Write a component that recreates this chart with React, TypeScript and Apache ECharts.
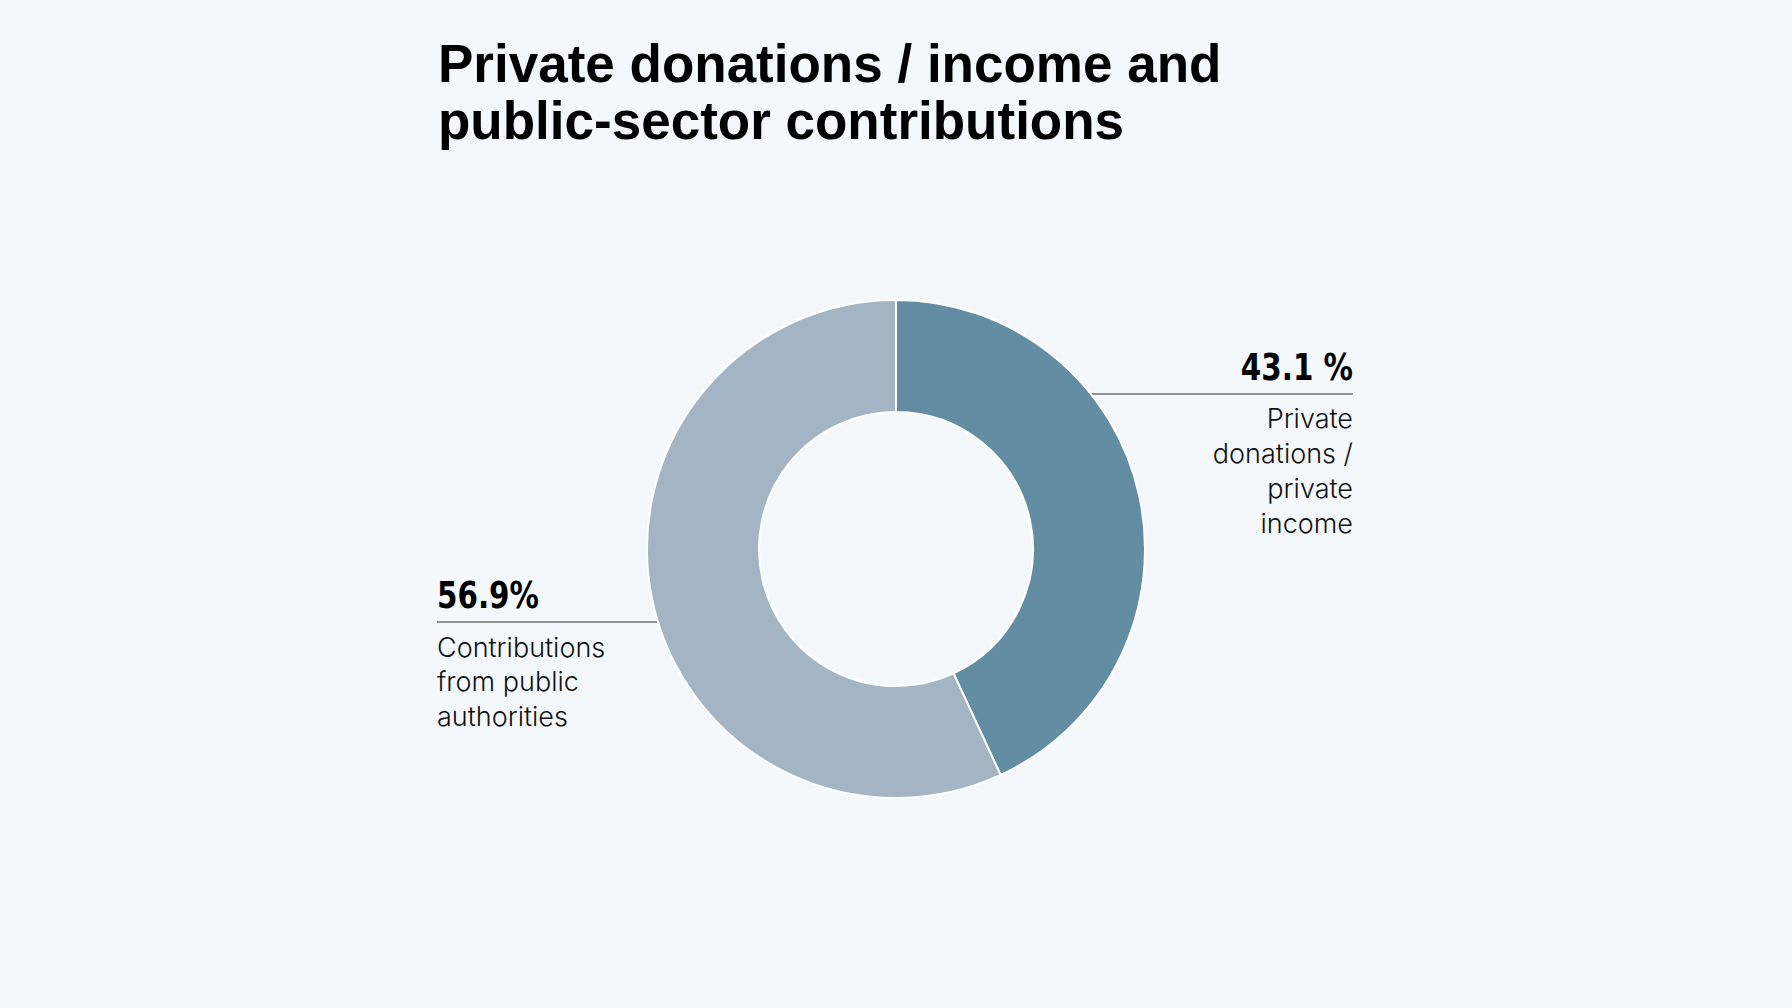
import React, { useEffect, useRef } from 'react';
import * as echarts from 'echarts';

const titleText = 'Private donations / income and\npublic-sector contributions';
const categories = ['Private\ndonations /\nprivate\nincome', 'Contributions\nfrom public\nauthorities'];
const shares = [43.1, 56.9];
const shareLabels = ['43.1 %', '56.9%'];
const colors = ['#628DA3', '#A3B5C4'];

const BG = '#F4F8FC';
const CX = 896;
const CY = 549;
const R_IN = 137;
const R_OUT = 249;

const App: React.FC = () => {
  const chartRef = useRef<HTMLDivElement | null>(null);

  useEffect(() => {
    document.body.style.margin = '0';
    document.body.style.background = BG;
    if (!chartRef.current) return;
    const chart = echarts.init(chartRef.current, null, { renderer: 'svg' });

    // leader rules touch the outer edge of the ring
    const edgeX = (y: number, side: number) =>
      CX + side * Math.sqrt(R_OUT * R_OUT - (CY - y) * (CY - y));
    const ruleRightY = 394;
    const ruleLeftY = 622;

    const pctFont = '"Liberation Sans Narrow", "DejaVu Sans Condensed", "Liberation Sans", sans-serif';
    const bodyFont = 'Inter, "Liberation Sans", sans-serif';
    const pctScale = 0.86;

    const option = {
      animation: false,
      backgroundColor: BG,
      title: {
        text: titleText,
        left: 438,
        top: 35,
        padding: 0,
        textStyle: {
          fontFamily: '"Liberation Sans", Arial, sans-serif',
          fontWeight: 'bold',
          fontSize: 53,
          lineHeight: 57,
          color: '#000',
        },
      },
      series: [
        {
          type: 'pie',
          center: [CX, CY],
          radius: [R_IN, R_OUT],
          startAngle: 90,
          clockwise: true,
          silent: true,
          label: { show: false },
          labelLine: { show: false },
          emphasis: { disabled: true },
          itemStyle: { borderColor: '#ffffff', borderWidth: 2 },
          data: shares.map((v, i) => ({
            value: v,
            name: categories[i],
            itemStyle: { color: colors[i] },
          })),
        },
      ],
      graphic: [
        {
          type: 'line',
          shape: { x1: edgeX(ruleRightY, 1) - 2, y1: ruleRightY, x2: 1353, y2: ruleRightY },
          style: { stroke: '#6f6f6f', lineWidth: 1.5 },
        },
        {
          type: 'text',
          x: 1353,
          y: 367,
          scaleX: pctScale,
          style: {
            text: shareLabels[0],
            align: 'right',
            verticalAlign: 'middle',
            font: `bold 38px ${pctFont}`,
            fill: '#000',
          },
        },
        {
          type: 'text',
          x: 1353,
          y: 401,
          style: {
            text: categories[0],
            align: 'right',
            verticalAlign: 'top',
            fontFamily: bodyFont,
            fontWeight: 300,
            fontSize: 27,
            lineHeight: 35,
            fill: '#111',
          },
        },
        {
          type: 'line',
          shape: { x1: 437, y1: ruleLeftY, x2: edgeX(ruleLeftY, -1) + 2, y2: ruleLeftY },
          style: { stroke: '#6f6f6f', lineWidth: 1.5 },
        },
        {
          type: 'text',
          x: 437,
          y: 595,
          scaleX: pctScale,
          style: {
            text: shareLabels[1],
            align: 'left',
            verticalAlign: 'middle',
            font: `bold 38px ${pctFont}`,
            fill: '#000',
          },
        },
        {
          type: 'text',
          x: 437,
          y: 630,
          style: {
            text: categories[1],
            align: 'left',
            verticalAlign: 'top',
            fontFamily: bodyFont,
            fontWeight: 300,
            fontSize: 27,
            lineHeight: 34.5,
            fill: '#111',
          },
        },
      ],
    };

    chart.setOption(option);
    return () => {
      chart.dispose();
    };
  }, []);

  return <div ref={chartRef} style={{ width: '1792px', height: '1008px' }} />;
};

export default App;
